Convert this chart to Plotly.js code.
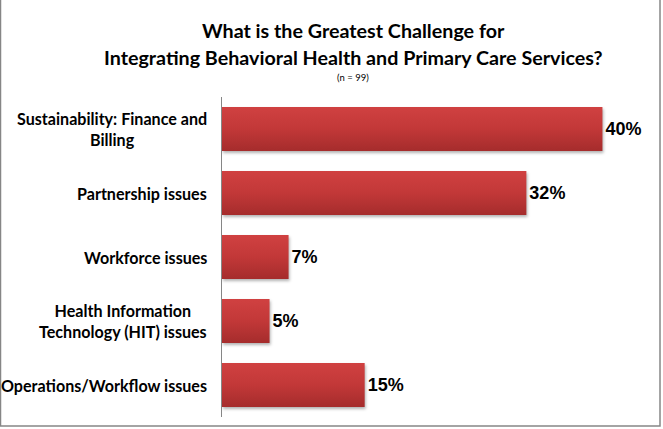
<!DOCTYPE html>
<html>
<head>
<meta charset="utf-8">
<script src="https://cdn.plot.ly/plotly-3.0.1.min.js"></script>
<style>
  html, body { margin: 0; padding: 0; background: #fff; }
  #chart { width: 663px; height: 429px; }
</style>
</head>
<body>
<div id="chart"></div>
<script>
/* Greatest challenge for integrating behavioral health and primary care (n = 99) */
var CATEGORIES = [
  "Sustainability: Finance and<br>Billing",
  "Partnership issues",
  "Workforce issues",
  "Health Information<br>Technology (HIT) issues",
  "Operations/Workflow issues"
];
var PERCENTS = [40, 32, 7, 5, 15];
var TITLE_LINES = [
  "What is the Greatest Challenge for",
  "Integrating Behavioral Health and Primary Care Services?"
];
var SAMPLE_NOTE = "(n = 99)";

var LABEL_FONT = "Lato, 'Open Sans', sans-serif";
var VALUE_FONT = "'Liberation Sans', Arial, sans-serif";

// plot area in pixels: x 222..650, y 97..417
var PLOT_W = 428, PLOT_H = 320;
var TITLE_CX = 353;

var trace = {
  type: "bar",
  orientation: "h",
  y: CATEGORIES,
  x: PERCENTS,
  marker: { color: "#BE3636", line: { width: 0 } },
  texttemplate: "%{x}%",
  textposition: "outside",
  textfont: { family: VALUE_FONT, size: 18, color: "#000", weight: "bold" },
  cliponaxis: false,
  hoverinfo: "skip"
};

// category labels drawn as annotations so wrapped lines centre on each other
var labelNotes = CATEGORIES.map(function (c) {
  return {
    xref: "paper", yref: "y", x: 0, y: c, xanchor: "right", yanchor: "middle",
    xshift: -13, text: c, showarrow: false, align: "center",
    font: { family: LABEL_FONT, size: 16.1, color: "#000", weight: "bold" }
  };
});

function titleNote(text, yPx, size, weight) {
  return {
    xref: "paper", yref: "paper", x: (TITLE_CX - 222) / PLOT_W, y: 1 + (97 - yPx) / PLOT_H,
    xanchor: "center", yanchor: "middle", text: text, showarrow: false,
    font: { family: LABEL_FONT, size: size, color: "#000", weight: weight }
  };
}

var layout = {
  width: 663, height: 429,
  paper_bgcolor: "#fff", plot_bgcolor: "#fff",
  margin: { l: 222, r: 13, t: 97, b: 12 },
  showlegend: false,
  bargap: 0.31,
  xaxis: {
    range: [0, 45], showgrid: false, zeroline: false, showline: false,
    showticklabels: false, ticks: "", fixedrange: true
  },
  yaxis: {
    autorange: "reversed", showgrid: false, zeroline: false,
    showline: true, linecolor: "#868686", linewidth: 1,
    showticklabels: false, ticks: "", fixedrange: true
  },
  annotations: labelNotes.concat([
    titleNote(TITLE_LINES[0], 31, 19.7, "bold"),
    titleNote(TITLE_LINES[1], 57, 19.7, "bold"),
    titleNote(SAMPLE_NOTE, 77, 9.5, "normal")
  ]),
  shapes: [{
    // outer chart border (top edge sits off the picture)
    type: "rect", xref: "paper", yref: "paper",
    x0: -221.5 / PLOT_W, x1: (660 - 222) / PLOT_W, y0: -(426 - 417) / PLOT_H, y1: 1 + 120 / PLOT_H,
    line: { color: "#868686", width: 1.5 }, fillcolor: "rgba(0,0,0,0)", layer: "below"
  }]
};

Plotly.newPlot("chart", [trace], layout, { displayModeBar: false, staticPlot: true }).then(function (gd) {
  // vertical red gradient + soft shadow on each bar, like the original
  var svg = gd.querySelector("svg.main-svg");
  var ns = "http://www.w3.org/2000/svg";
  var defs = svg.querySelector("defs") || svg.insertBefore(document.createElementNS(ns, "defs"), svg.firstChild);
  var grad = document.createElementNS(ns, "linearGradient");
  grad.setAttribute("id", "barGrad");
  grad.setAttribute("x1", "0"); grad.setAttribute("y1", "0");
  grad.setAttribute("x2", "0"); grad.setAttribute("y2", "1");
  [["0", "#D04141"], ["0.5", "#C23838"], ["1", "#A52C2C"]].forEach(function (s) {
    var stop = document.createElementNS(ns, "stop");
    stop.setAttribute("offset", s[0]);
    stop.setAttribute("stop-color", s[1]);
    grad.appendChild(stop);
  });
  defs.appendChild(grad);
  gd.querySelectorAll(".bars .point path").forEach(function (p) {
    p.style.fill = "url(#barGrad)";
    p.style.filter = "drop-shadow(1px 2px 1.5px rgba(0,0,0,0.3))";
  });
});
</script>
</body>
</html>
